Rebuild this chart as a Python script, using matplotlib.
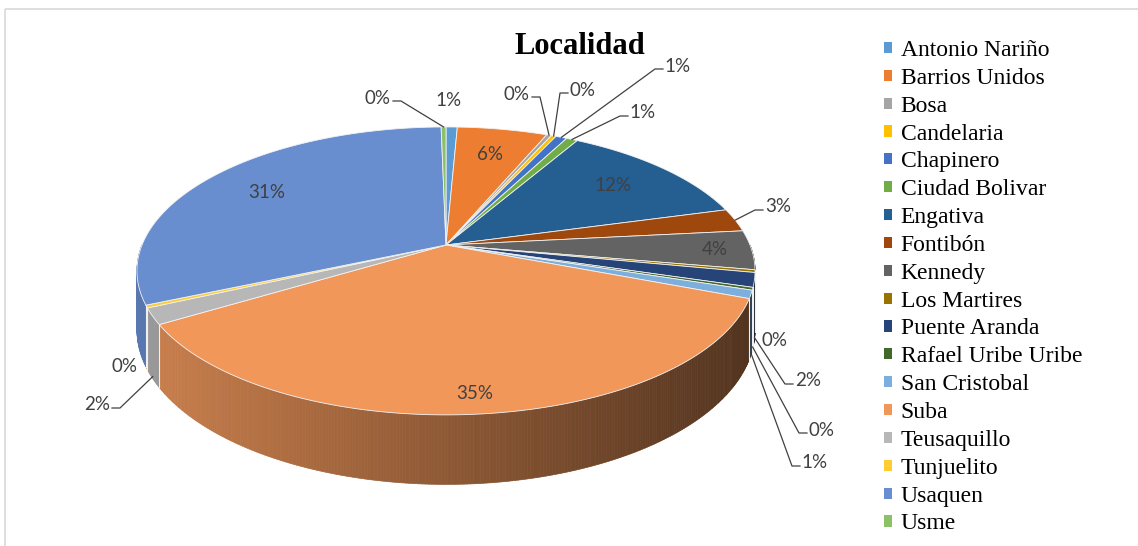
import numpy as np
import matplotlib.pyplot as plt
from matplotlib.patches import Patch, Rectangle
from matplotlib.collections import PolyCollection
from matplotlib.colors import to_rgb

# datos
localidades = ["Antonio Nariño", "Barrios Unidos", "Bosa", "Candelaria", "Chapinero",
               "Ciudad Bolivar", "Engativa", "Fontibón", "Kennedy", "Los Martires",
               "Puente Aranda", "Rafael Uribe Uribe", "San Cristobal", "Suba",
               "Teusaquillo", "Tunjuelito", "Usaquen", "Usme"]
porcentajes = [0.7, 5.6, 0.3, 0.3, 0.7, 0.7, 12.4, 2.6, 4.4, 0.3,
               1.6, 0.3, 0.9, 35.4, 1.8, 0.3, 31.2, 0.3]
colores = ["#5B9BD5", "#ED7D31", "#A5A5A5", "#FFC000", "#4472C4", "#70AD47",
           "#255E91", "#9E480E", "#636363", "#997300", "#264478", "#43682B",
           "#7CAFDD", "#F1975A", "#B7B7B7", "#FFCD33", "#698ED0", "#8CC168"]

# geometria del pastel 3D (px)
W, H = 1138, 546
CX, CY = 446, 245
A, B, K = 304, 139.3, 0.18
DEPTH = 57

# etiquetas dentro del pastel: radio relativo
radio_interno = {"Kennedy": 0.88, "Suba": 0.9}
# etiquetas fuera del pastel: posicion del texto (px)
pos_externa = {
    "Usme": (378, 98), "Antonio Nariño": (449, 100), "Bosa": (517, 94),
    "Candelaria": (583, 90), "Chapinero": (678, 66), "Ciudad Bolivar": (643, 113),
    "Fontibón": (778, 207), "Los Martires": (775, 340), "Puente Aranda": (808, 381),
    "Rafael Uribe Uribe": (822, 430), "San Cristobal": (815, 463),
    "Tunjuelito": (125, 366), "Teusaquillo": (97, 405),
}


def proj(theta, r=1.0):
    # theta en grados, sentido horario desde las 12
    t = np.radians(theta)
    x = r * np.sin(t)
    y = r * np.cos(t)
    s = 1 + K * y
    return CX + A * x / s, CY - B * y / s, s


fig = plt.figure(figsize=(W / 100, H / 100), dpi=100)
ax = fig.add_axes([0, 0, 1, 1])
ax.set_xlim(0, W)
ax.set_ylim(H, 0)
ax.axis("off")

total = sum(porcentajes)
bordes = np.concatenate([[0], np.cumsum(porcentajes)]) / total * 360
n = len(localidades)

# paredes laterales (solo la mitad frontal)
polys, fcs = [], []
for i in range(n):
    t1, t2 = max(bordes[i], 90), min(bordes[i + 1], 270)
    if t2 <= t1:
        continue
    ts = np.linspace(t1, t2, max(2, int((t2 - t1) / 0.5) + 1))
    base = np.array(to_rgb(colores[i]))
    for ta, tb in zip(ts[:-1], ts[1:]):
        xa, ya, sa = proj(ta)
        xb, yb, sb = proj(tb)
        polys.append([(xa, ya), (xb, yb), (xb, yb + DEPTH / sb), (xa, ya + DEPTH / sa)])
        f = 0.84 - 0.5 * ((xa + xb) / 2 - (CX - A)) / (2 * A)
        fcs.append(np.clip(base * f, 0, 1))
ax.add_collection(PolyCollection(polys, facecolors=fcs, edgecolors=fcs, linewidths=0.5))

for t in bordes:
    if 90 < t < 270:
        x, y, s = proj(t)
        ax.plot([x, x], [y, y + DEPTH / s], color="#f0f0f0", lw=0.8)

# cara superior
for i in range(n):
    ts = np.linspace(bordes[i], bordes[i + 1], max(2, int((bordes[i + 1] - bordes[i]) / 0.5) + 1))
    xs, ys, _ = proj(ts)
    ax.fill(np.r_[CX, xs], np.r_[CY, ys], facecolor=colores[i], edgecolor="#f2f2f2", lw=0.6)

# etiquetas de datos
txt = dict(family="Lato", fontsize=13.5, color="#404040")
for i, nombre in enumerate(localidades):
    etiqueta = f"{round(porcentajes[i] / total * 100)}%"
    tm = (bordes[i] + bordes[i + 1]) / 2
    if nombre not in pos_externa:
        x, y, _ = proj(tm, radio_interno.get(nombre, 0.75))
        ax.text(x, y, etiqueta, ha="center", va="center", **txt)
        continue
    lx, ly = pos_externa[nombre]
    ax.text(lx, ly, etiqueta, ha="center", va="center", **txt)
    x, y, s = proj(tm)
    if np.cos(np.radians(tm)) < 0:
        y += DEPTH / s - 2
    if np.hypot(x - lx, y - ly) < 30:
        continue
    if abs(x - lx) < 15:
        ax.plot([lx, x], [ly + 10, y], color="#404040", lw=0.9)
    elif x > lx:
        ax.plot([lx + 15, lx + 23, x], [ly + 3, ly + 3, y], color="#404040", lw=0.9)
    else:
        ax.plot([lx - 15, lx - 23, x], [ly + 3, ly + 3, y], color="#404040", lw=0.9)

fig.text(580 / W, 1 - 46 / H, "Localidad", ha="center", va="center",
         family="Liberation Serif", fontweight="bold", fontsize=22)

handles = [Patch(facecolor=c, edgecolor="none") for c in colores]
fig.legend(handles, localidades, loc="upper left", bbox_to_anchor=(884 / W, 1 - 40 / H),
           frameon=False, prop={"family": "Liberation Serif", "size": 17},
           handlelength=0.35, handleheight=0.35, handletextpad=0.35,
           labelspacing=0.29, borderpad=0, borderaxespad=0)

ax.add_patch(Rectangle((5, 9), W, H, fill=False, ec="#d9d9d9", lw=1.2, clip_on=False))

fig.savefig("out.png", dpi=100)
